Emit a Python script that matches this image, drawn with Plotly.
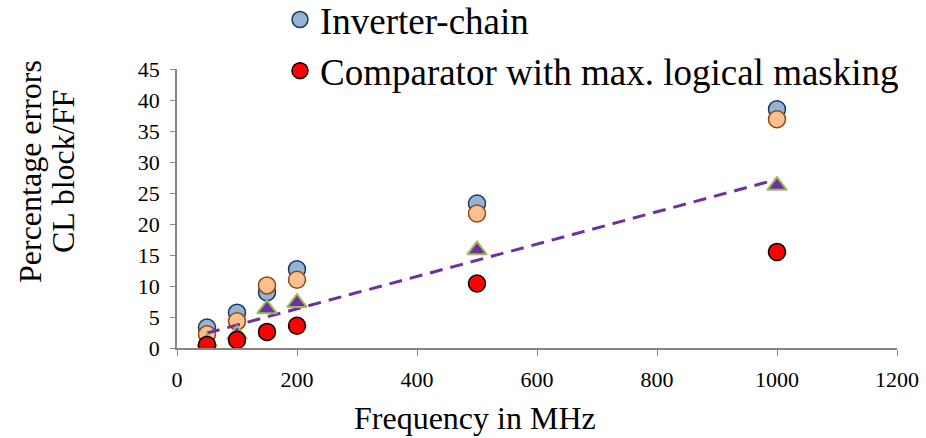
import numpy as np
import plotly.graph_objects as go

freq = [50, 100, 150, 200, 500, 1000]
inverter_chain = [3.3, 5.7, 9.0, 12.7, 23.3, 38.5]
series_orange = [2.2, 4.3, 10.1, 11.0, 21.7, 36.9]
series_triangle = [1.0, 2.2, 6.3, 7.3, 15.8, 26.2]
comparator = [0.5, 1.3, 2.6, 3.6, 10.4, 15.5]

x_ticks = [0, 200, 400, 600, 800, 1000, 1200]
y_ticks = [0, 5, 10, 15, 20, 25, 30, 35, 40, 45]

FONT = "Liberation Serif"

slope, intercept = np.polyfit(freq, series_triangle, 1)
trend_x = [freq[0], freq[-1]]
trend_y = [slope * v + intercept for v in trend_x]

fig = go.Figure()
fig.add_trace(go.Scatter(x=freq, y=inverter_chain, mode="markers", name="Inverter-chain",
                         marker=dict(symbol="circle", size=17, color="#95B3D7",
                                     line=dict(color="#17375E", width=1.5))))
fig.add_trace(go.Scatter(x=freq, y=series_orange, mode="markers", showlegend=False,
                         marker=dict(symbol="circle", size=17, color="#FAC090",
                                     line=dict(color="#984807", width=1.5))))
fig.add_trace(go.Scatter(x=trend_x, y=trend_y, mode="lines", showlegend=False,
                         line=dict(color="#7030A0", width=3, dash="13px,8px")))
fig.add_trace(go.Scatter(x=freq, y=series_triangle, mode="markers", showlegend=False,
                         marker=dict(symbol="triangle-up", size=17, color="#7030A0",
                                     line=dict(color="#9BBB59", width=2))))
fig.add_trace(go.Scatter(x=freq, y=comparator, mode="markers",
                         name="Comparator with max. logical masking",
                         marker=dict(symbol="circle", size=17, color="#FF0000",
                                     line=dict(color="#000000", width=1.5))))

fig.update_layout(
    width=926, height=438,
    margin=dict(l=177, r=29, t=69, b=90, autoexpand=False),
    paper_bgcolor="white", plot_bgcolor="white",
    font=dict(family=FONT, color="black", size=22),
    showlegend=True,
    legend=dict(x=(280 - 177) / 720, y=1 + 80 / 279, xanchor="left", yanchor="top",
                font=dict(family=FONT, size=37), bgcolor="rgba(0,0,0,0)",
                tracegroupgap=0, itemwidth=30),
    xaxis=dict(range=[0, 1200], tickvals=x_ticks, ticks="outside", ticklen=6,
               tickcolor="#868686", showline=True, linecolor="#868686", linewidth=1.5,
               showgrid=False, zeroline=False, tickfont=dict(family=FONT, size=22),
               ticklabelstandoff=5),
    yaxis=dict(range=[0, 45], tickvals=y_ticks, ticks="outside", ticklen=5,
               tickcolor="#868686", showline=True, linecolor="#868686", linewidth=1.5,
               showgrid=False, zeroline=False, tickfont=dict(family=FONT, size=22),
               ticklabelstandoff=6),
    annotations=[
        dict(text="Frequency in MHz", xref="paper", yref="paper",
             x=(475 - 177) / 720, y=-(418 - 348) / 279, xanchor="center", yanchor="middle",
             showarrow=False, font=dict(family=FONT, size=32)),
        dict(text="Percentage errors", xref="paper", yref="paper",
             x=-(177 - 30) / 720, y=(348 - 172) / 279, xanchor="center", yanchor="middle",
             showarrow=False, textangle=-90, font=dict(family=FONT, size=32)),
        dict(text="CL block/FF", xref="paper", yref="paper",
             x=-(177 - 63) / 720, y=(348 - 172) / 279, xanchor="center", yanchor="middle",
             showarrow=False, textangle=-90, font=dict(family=FONT, size=32)),
    ],
)

fig.write_html("out.html")
